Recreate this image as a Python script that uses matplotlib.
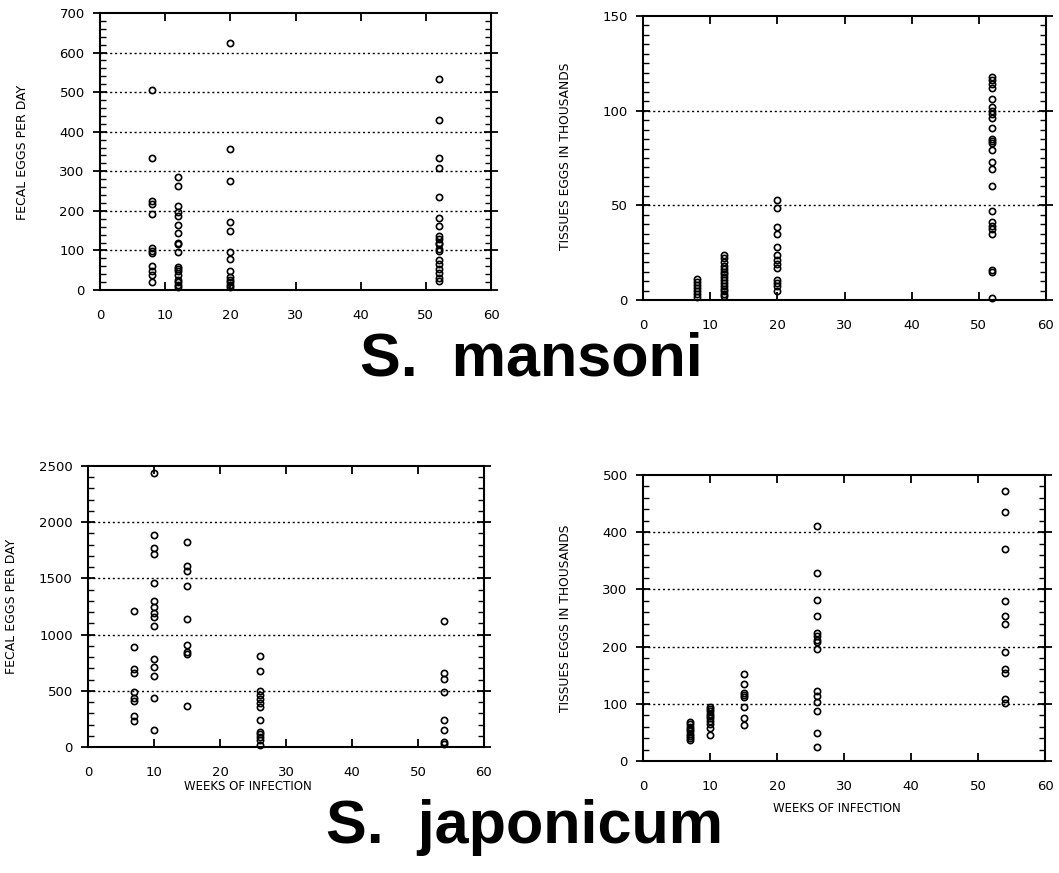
import matplotlib
matplotlib.use('Agg')
import matplotlib.pyplot as plt
from matplotlib.ticker import MultipleLocator

# weeks of infection for each group
mansoni_weeks = [8, 12, 20, 52]
japonicum_weeks = [7, 10, 15, 26, 54]

# S. mansoni, fecal eggs per day
mansoni_fecal = [
    [506, 334, 224, 218, 192, 105, 99, 93, 61, 49, 37, 19],
    [285, 264, 213, 198, 187, 165, 143, 120, 116, 95, 59, 54, 49, 38, 25, 19, 13, 8],
    [625, 357, 275, 171, 150, 95, 78, 49, 34, 25, 19, 13, 7],
    [533, 430, 333, 309, 236, 183, 162, 136, 128, 120, 115, 103, 99, 77, 65, 52, 44, 31, 23],
]
# S. mansoni, tissue eggs (thousands)
mansoni_tissue = [
    [11, 9.5, 8, 6.5, 5, 3, 1.5],
    [24, 22, 20, 18, 16.5, 15, 13.5, 12, 10.5, 9, 7.5, 6, 4.5, 3, 2],
    [53, 48.5, 38.5, 35, 28, 24, 21, 19, 17, 10.5, 9, 7.5, 5],
    [118, 116, 114, 112, 106, 102, 100, 98, 96, 91, 85, 84, 83, 79, 73, 69, 60, 47,
     41, 39, 37.5, 35, 16, 15, 1],
]
# S. japonicum, fecal eggs per day
japonicum_fecal = [
    [1211, 893, 690, 655, 491, 440, 411, 274, 232],
    [2434, 1884, 1771, 1717, 1458, 1295, 1250, 1196, 1155, 1077, 783, 714, 634, 437, 149],
    [1821, 1613, 1568, 1434, 1137, 908, 848, 827, 363],
    [809, 679, 500, 461, 426, 395, 357, 244, 134, 113, 89, 60, 15],
    [1125, 657, 607, 488, 237, 148, 44, 30],
]
# S. japonicum, tissue eggs (thousands)
japonicum_tissue = [
    [69, 64, 60, 56, 52, 48, 44, 40, 36],
    [95, 91, 87, 83, 79, 75, 70, 64, 58, 46],
    [152, 134, 119, 116, 112, 95, 75, 63],
    [410, 329, 281, 253, 224, 218, 212, 208, 195, 122, 113, 104, 88, 49, 25],
    [472, 436, 371, 280, 253, 239, 191, 160, 154, 109, 102],
]

W, H = 1059, 873
fig = plt.figure(figsize=(W / 100, H / 100), dpi=100)
fig.patch.set_facecolor('white')


def px_axes(left, top, right, bottom):
    return fig.add_axes([left / W, 1 - bottom / H, (right - left) / W, (bottom - top) / H])


def panel(ax, weeks, groups, ymax, ymajor, yminor):
    for wk, vals in zip(weeks, groups):
        ax.plot([wk] * len(vals), vals, 'o', ms=4.5, mfc='none', mec='black', mew=1.2,
                clip_on=False, zorder=3)
    ax.set_xlim(0, 60)
    ax.set_ylim(0, ymax)
    ax.xaxis.set_major_locator(MultipleLocator(10))
    ax.yaxis.set_major_locator(MultipleLocator(ymajor))
    ax.yaxis.set_minor_locator(MultipleLocator(yminor))
    for y in range(ymajor, ymax, ymajor):
        ax.axhline(y, color='black', ls=(0, (1.5, 2)), lw=1.0, zorder=1)
    for s in ax.spines.values():
        s.set_linewidth(1.5)
    ax.tick_params(axis='y', which='major', direction='inout', length=10, width=1.3,
                   left=True, right=True, labelsize=9.5, pad=6)
    ax.tick_params(axis='y', which='minor', direction='in', length=4, width=1.0,
                   left=True, right=True)
    ax.tick_params(axis='x', which='major', direction='in', length=6, width=1.3,
                   top=True, bottom=True, labelsize=9.5, pad=14)


ax1 = px_axes(100, 13, 491, 290)
panel(ax1, mansoni_weeks, mansoni_fecal, 700, 100, 20)
ax2 = px_axes(643, 16, 1046, 300)
panel(ax2, mansoni_weeks, mansoni_tissue, 150, 50, 5)
ax3 = px_axes(88, 466, 484, 747)
panel(ax3, japonicum_weeks, japonicum_fecal, 2500, 500, 100)
ax4 = px_axes(643, 475, 1045, 761)
panel(ax4, japonicum_weeks, japonicum_tissue, 500, 100, 20)

fig.text(23 / W, 1 - 152 / H, 'FECAL EGGS PER DAY', rotation=90, ha='center', va='center', fontsize=9)
fig.text(565 / W, 1 - 156 / H, 'TISSUES EGGS IN THOUSANDS', rotation=90, ha='center', va='center', fontsize=8.8)
fig.text(12 / W, 1 - 606 / H, 'FECAL EGGS PER DAY', rotation=90, ha='center', va='center', fontsize=9)
fig.text(565 / W, 1 - 618 / H, 'TISSUES EGGS IN THOUSANDS', rotation=90, ha='center', va='center', fontsize=8.8)

fig.text(248 / W, 1 - 787 / H, 'WEEKS OF INFECTION', ha='center', va='center', fontsize=8.5)
fig.text(837 / W, 1 - 808 / H, 'WEEKS OF INFECTION', ha='center', va='center', fontsize=8.5)

fig.text(531 / W, 1 - 376 / H, 'S.  mansoni', ha='center', va='baseline',
         fontsize=44, fontweight='bold', family='Liberation Sans')
fig.text(525 / W, 1 - 843 / H, 'S.  japonicum', ha='center', va='baseline',
         fontsize=44, fontweight='bold', family='Liberation Sans')

fig.savefig('out.png', dpi=100, facecolor='white')
